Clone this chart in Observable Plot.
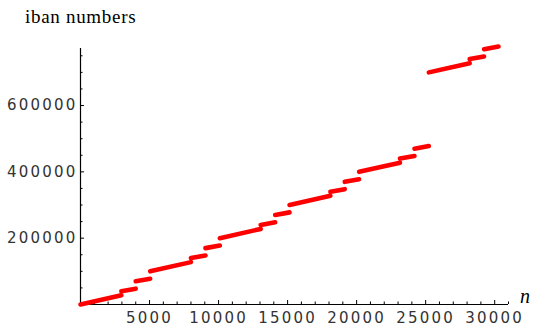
<!DOCTYPE html>
<html><head><meta charset="utf-8">
<script src="https://cdn.jsdelivr.net/npm/d3@7"></script>
<script src="https://cdn.jsdelivr.net/npm/@observablehq/plot@0.6"></script>
<style>
body{margin:0;background:#fff}
#chart{width:539px;height:333px}
g[aria-label="x-axis tick label"] text, g[aria-label="y-axis tick label"] text{letter-spacing:2.2px}
</style></head><body><div id="chart"></div>
<script>
// Segments of the red point cloud (start/end index n and value)
const segN0 = [0, 2960, 4000, 5046, 8000, 9050, 10092, 13050, 14100, 15140, 18100, 19140, 20180, 23140, 24190, 25230, 28190, 29230];
const segN1 = [2960, 4000, 5046, 8000, 9050, 10092, 13050, 14100, 15140, 18100, 19140, 20180, 23140, 24190, 25230, 28190, 29230, 30276];
const segV0 = [0, 40000, 70000, 100000, 140000, 170000, 200000, 240000, 270000, 300000, 340000, 370000, 400000, 440000, 470000, 700000, 740000, 770000];
const segV1 = [27800, 47800, 77800, 127800, 147800, 177800, 227800, 247800, 277800, 327800, 347800, 377800, 427800, 447800, 477800, 727800, 747800, 777800];
const xTickLabels = [5000, 10000, 15000, 20000, 25000, 30000];
const yTickLabels = [200000, 400000, 600000];
const titleText = "iban numbers";
const xLabelText = "n";

const rows = segN0.flatMap((n0, i) => [
  {seg: i, n: n0, v: segV0[i]},
  {seg: i, n: segN1[i], v: segV1[i]}
]);
const xMinor = d3.range(1000, 31001, 1000).filter(d => !xTickLabels.includes(d));
const yMinor = d3.range(50000, 771000, 50000).filter(d => !yTickLabels.includes(d));

const plot = Plot.plot({
  width: 539, height: 333,
  marginLeft: 80, marginRight: 31, marginTop: 48, marginBottom: 29,
  style: {fontFamily: "DejaVu Sans", fontSize: "15px", color: "#333", background: "#fff"},
  x: {domain: [0, 31000]},
  y: {domain: [0, 772000]},
  marks: [
    Plot.ruleY([0], {stroke: "#000", strokeWidth: 1.2}),
    Plot.ruleX([0], {stroke: "#000", strokeWidth: 1.2}),
    Plot.axisX(xMinor, {tickSize: -2.5, fill: "none", stroke: "#000", label: null}),
    Plot.axisX(xTickLabels, {tickSize: -4, fill: "none", stroke: "#000", label: null}),
    Plot.axisX(xTickLabels, {tickSize: 0, tickPadding: 8, fill: "#333", label: null, tickFormat: d => String(d)}),
    Plot.axisY(yMinor, {tickSize: -2.5, fill: "none", stroke: "#000", label: null}),
    Plot.axisY(yTickLabels, {tickSize: -4, fill: "none", stroke: "#000", label: null}),
    Plot.axisY(yTickLabels, {tickSize: 0, tickPadding: 3, fill: "#333", label: null, tickFormat: d => String(d)}),
    Plot.line(rows, {x: "n", y: "v", z: "seg", stroke: "#ff0000", strokeWidth: 4.6, strokeLinecap: "round"})
  ]
});

const svg = d3.select(plot);
svg.append("text").attr("x", 25).attr("y", 22.7).attr("text-anchor", "start")
  .attr("font-family", "Liberation Serif").attr("font-size", 19)
  .attr("letter-spacing", 0.7).attr("fill", "#000").text(titleText);
svg.append("text").attr("x", 520).attr("y", 303).attr("text-anchor", "start")
  .attr("font-family", "Liberation Serif").attr("font-style", "italic").attr("font-size", 20)
  .attr("fill", "#000").text(xLabelText);

document.getElementById("chart").appendChild(plot);
</script>
</body></html>
